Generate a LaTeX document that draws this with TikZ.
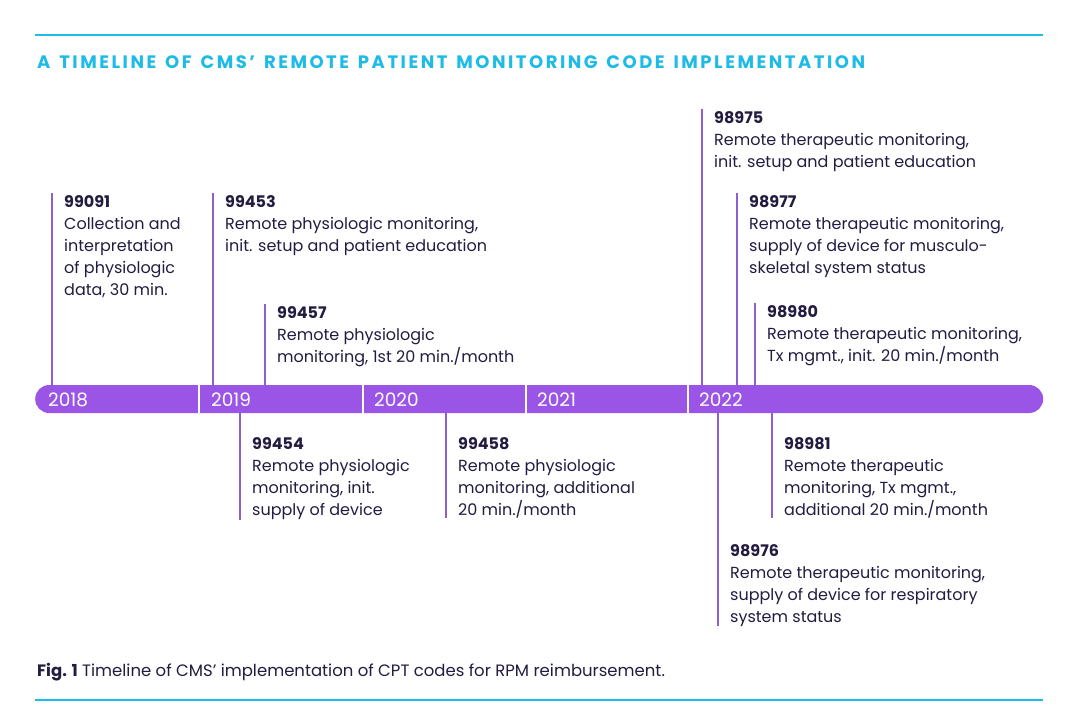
\documentclass[tikz,border=0pt]{standalone}
\usepackage{fontspec}
\setmainfont{Poppins}
\newfontfamily\titlefont[LetterSpace=14,WordSpace=1.4]{Poppins}
\usetikzlibrary{positioning}
\definecolor{rpmcyan}{HTML}{1EBBE6}
\definecolor{rpmpurple}{HTML}{9B55E6}
\definecolor{rpmstem}{HTML}{8C60C8}
\definecolor{rpmink}{HTML}{231B40}

\begin{document}
\begin{tikzpicture}[x=1pt,y=-1pt,
    rule/.style={rpmcyan,line width=2pt},
    stem/.style={rpmstem,line width=1.3pt},
    divider/.style={white,line width=1.3pt},
    entry/.style={anchor=north west,inner sep=0pt,align=left,text=rpmink,
      font=\fontsize{16}{22}\selectfont},
    year/.style={anchor=base west,inner sep=0pt,text=white,
      font=\fontsize{18.5}{20}\selectfont}]
  \useasboundingbox (0,0) rectangle (1080,726);

  % rules and title
  \draw[rule] (35,35) -- (1043,35);
  \draw[rule] (35,700) -- (1043,700);
  \node[anchor=base west,inner sep=0pt,text=rpmcyan,
    font=\titlefont\bfseries\fontsize{18}{20}\selectfont] (title) at (37,68)
    {A TIMELINE OF CMS’ REMOTE PATIENT MONITORING CODE IMPLEMENTATION};

  % time bar
  \node[fill=rpmpurple,rounded corners=14pt,minimum width=1008pt,
    minimum height=28pt,inner sep=0pt,anchor=west] (bar) at (35,399) {};
  \foreach \x in {199,363,526,688}
    \draw[divider] (\x,385) -- (\x,413);
  \foreach \x/\yr in {48/2018,211/2019,374/2020,537/2021,699/2022}
    \node[year] (y\yr) at (\x,406) {\yr};

  % codes above the bar
  \node[entry] (n99091) at (64,195) {\textbf{99091}\\Collection and\\interpretation\\of physiologic\\data, 30 min.};
  \node[entry] (n99453) at (225,195) {\textbf{99453}\\Remote physiologic monitoring,\\init. setup and patient education};
  \node[entry] (n99457) at (277,306) {\textbf{99457}\\Remote physiologic\\monitoring, 1st 20 min./month};
  \node[entry] (n98975) at (714,111) {\textbf{98975}\\Remote therapeutic monitoring,\\init. setup and patient education};
  \node[entry] (n98977) at (749,195) {\textbf{98977}\\Remote therapeutic monitoring,\\supply of device for musculo-\\skeletal system status};
  \node[entry] (n98980) at (767,305) {\textbf{98980}\\Remote therapeutic monitoring,\\Tx mgmt., init. 20 min./month};
  \foreach \n in {n99091,n99453,n99457,n98975,n98977,n98980}
    \draw[stem] ([shift={(-12,-2)}]\n.north west) -- ([xshift=-12]\n.north west |- bar.north);

  % codes below the bar
  \node[entry] (n99454) at (252,437) {\textbf{99454}\\Remote physiologic\\monitoring, init.\\supply of device};
  \node[entry] (n99458) at (458,437) {\textbf{99458}\\Remote physiologic\\monitoring, additional\\20 min./month};
  \node[entry] (n98981) at (784,437) {\textbf{98981}\\Remote therapeutic\\monitoring, Tx mgmt.,\\additional 20 min./month};
  \node[entry] (n98976) at (730,544) {\textbf{98976}\\Remote therapeutic monitoring,\\supply of device for respiratory\\system status};
  \foreach \n in {n99454,n99458,n98981,n98976}
    \draw[stem] ([xshift=-12]\n.south west |- bar.south) -- ([xshift=-12]\n.south west);

  % caption
  \node[anchor=base west,inner sep=0pt,text=rpmink,font=\fontsize{16.5}{18}\selectfont] (caption) at (37,676)
    {\textbf{Fig. 1} Timeline of CMS’ implementation of CPT codes for RPM reimbursement.};
\end{tikzpicture}
\end{document}
